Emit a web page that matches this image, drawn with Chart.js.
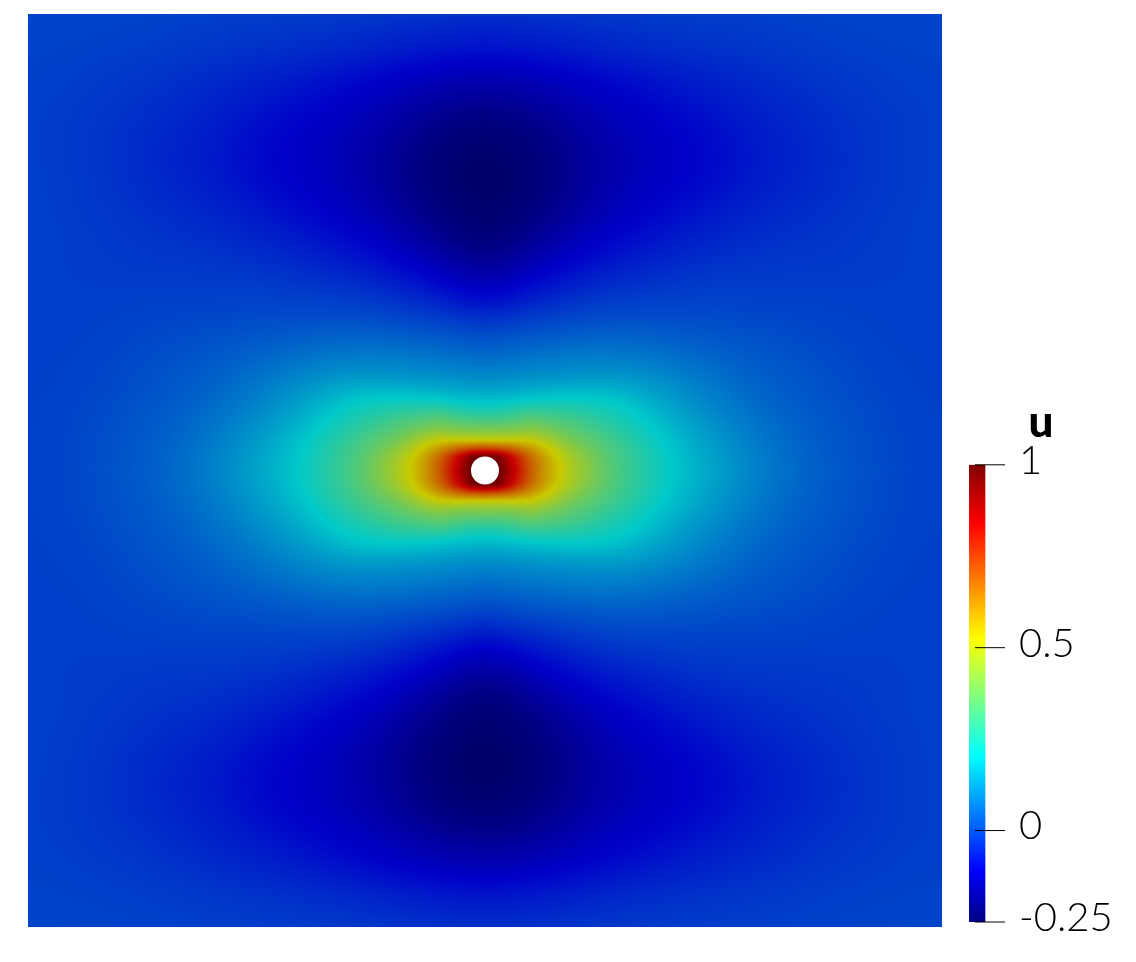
<!DOCTYPE html>
<html>
<head>
<meta charset="utf-8">
<title>u</title>
<script src="https://cdn.jsdelivr.net/npm/chart.js@4"></script>
<style>
    html, body { margin: 0; padding: 0; background: #fff; }
    #field { position: absolute; left: 0; top: 0; }
    #bar { position: absolute; left: 950px; top: 396px; }
</style>
</head>
<body>
<canvas id="field" width="1136" height="962"></canvas>
<canvas id="bar" width="163" height="564"></canvas>
<script>
// ---- Data ----
// The field is symmetric, so only one quadrant is kept (distance from the centre, domain -1..1)
const gridX = [0, .03, .06, .1, .14, .18, .22, .28, .34, .42, .5, .6, .7, .8, .9, 1];
const gridY = [0, .03, .05, .07, .09, .12, .16, .2, .26, .32, .4, .5, .6, .68, .78, .88, 1];

// one row per gridY, one value per gridX
const fieldRows = [
    [1.00, 1.00, .87, .70, .58, .50, .43, .335, .27, .195, .145, .09, .045, .02, 0, -.01],
    [1.00, .97, .83, .68, .57, .48, .42, .33, .27, .195, .145, .09, .045, .02, 0, -.01],
    [.72, .70, .67, .60, .52, .45, .39, .32, .26, .19, .14, .085, .045, .02, 0, -.01],
    [.49, .49, .50, .50, .46, .39, .35, .30, .25, .18, .13, .08, .04, .02, 0, -.01],
    [.40, .40, .40, .42, .39, .36, .33, .28, .23, .165, .12, .07, .035, .015, -.005, -.01],
    [.28, .28, .30, .325, .31, .30, .275, .24, .205, .15, .105, .06, .03, .01, -.005, -.01],
    [.175, .175, .18, .19, .20, .205, .205, .20, .17, .125, .09, .05, .025, .01, -.005, -.01],
    [.11, .11, .115, .12, .125, .125, .13, .13, .12, .10, .07, .04, .02, .005, -.01, -.01],
    [.045, .05, .055, .06, .065, .07, .075, .075, .07, .055, .04, .025, .01, 0, -.01, -.015],
    [-.015, -.015, -.005, 0, .005, .01, .015, .02, .02, .015, .01, .005, 0, -.005, -.015, -.015],
    [-.13, -.125, -.11, -.09, -.075, -.06, -.05, -.035, -.03, -.02, -.015, -.015, -.015, -.015, -.015, -.015],
    [-.235, -.225, -.21, -.19, -.165, -.145, -.125, -.10, -.085, -.065, -.05, -.035, -.03, -.025, -.015, -.01],
    [-.25, -.245, -.24, -.23, -.215, -.195, -.175, -.15, -.125, -.105, -.085, -.06, -.045, -.03, -.015, -.01],
    [-.25, -.25, -.25, -.235, -.215, -.195, -.175, -.155, -.135, -.12, -.105, -.075, -.055, -.04, -.025, -.01],
    [-.225, -.22, -.215, -.205, -.19, -.175, -.16, -.14, -.125, -.105, -.085, -.06, -.045, -.03, -.02, -.01],
    [-.135, -.13, -.125, -.12, -.11, -.10, -.095, -.085, -.07, -.06, -.05, -.04, -.03, -.02, -.015, -.01],
    [-.01, -.01, -.01, -.01, -.01, -.01, -.005, -.005, -.005, -.005, -.005, -.005, 0, 0, 0, 0]
];

// colour bar
const colorbarTitle = 'u';
const colorbarTicks = [-0.25, 0, 0.5, 1];
const colorbarLabels = ['-0.25', '0', '0.5', '1'];
const jetValues = [-0.25, -0.11, 0.206, 0.525, 0.84, 1];
const jetColors = [[0, 0, 130], [0, 0, 255], [0, 255, 255], [255, 255, 0], [255, 0, 0], [128, 0, 0]];

// surface is lit in the original, colours come out darker than on the bar
const shade = 0.79;

function jet(v) {
    let i = 0;
    while (i < jetValues.length - 2 && v > jetValues[i + 1]) i++;
    const t = Math.min(1, Math.max(0, (v - jetValues[i]) / (jetValues[i + 1] - jetValues[i])));
    return jetColors[i].map((c, k) => c + (jetColors[i + 1][k] - c) * t);
}

function findCell(arr, d) {
    let i = 0;
    while (i < arr.length - 2 && d > arr[i + 1]) i++;
    return [i, Math.min(1, (d - arr[i]) / (arr[i + 1] - arr[i]))];
}

// shades the quadrant table between its nodes, placed with the chart scales
function fieldValue(x, y) {
    const [i, tx] = findCell(gridX, Math.abs(x));
    const [j, ty] = findCell(gridY, Math.abs(y));
    const top = fieldRows[j][i] * (1 - tx) + fieldRows[j][i + 1] * tx;
    const bot = fieldRows[j + 1][i] * (1 - tx) + fieldRows[j + 1][i + 1] * tx;
    return top * (1 - ty) + bot * ty;
}

// softens the kinks of the table, less so close to the hole where the field is steep
function softValue(x, y) {
    const h = 0.08 * Math.max(Math.abs(x), Math.abs(y));
    let sum = 0;
    for (let a = -1; a <= 1; a++) {
        for (let b = -1; b <= 1; b++) sum += fieldValue(x + a * h, y + b * h);
    }
    return sum / 9;
}

const fieldPlugin = {
    id: 'fieldShading',
    beforeDatasetsDraw(chart) {
        const { ctx, chartArea, scales } = chart;
        const w = Math.round(chartArea.width), h = Math.round(chartArea.height);
        const img = ctx.createImageData(w, h);
        for (let py = 0; py < h; py++) {
            const y = scales.y.getValueForPixel(chartArea.top + py + 0.5);
            for (let px = 0; px < w; px++) {
                const x = scales.x.getValueForPixel(chartArea.left + px + 0.5);
                const c = jet(softValue(x, y));
                const o = (py * w + px) * 4;
                img.data[o] = c[0] * shade;
                img.data[o + 1] = c[1] * shade;
                img.data[o + 2] = c[2] * shade;
                img.data[o + 3] = 255;
            }
        }
        ctx.putImageData(img, Math.round(chartArea.left), Math.round(chartArea.top));
    }
};

// nodes of the full square, mirrored from the quadrant
const nodes = [];
gridY.forEach((gy, j) => gridX.forEach((gx, i) => {
    [-1, 1].forEach(sx => [-1, 1].forEach(sy => {
        nodes.push({ x: sx * gx, y: sy * gy, v: fieldRows[j][i] });
    }));
}));

new Chart(document.getElementById('field'), {
    type: 'scatter',
    data: {
        datasets: [
            { label: 'hole', data: [{ x: 0, y: 0 }], pointRadius: 14, pointHoverRadius: 14, backgroundColor: '#fff', borderWidth: 0 },
            { label: 'u', data: nodes, pointRadius: 0 }
        ]
    },
    options: {
        responsive: false,
        animation: false,
        layout: { padding: { left: 28, right: 194, top: 13, bottom: 35 } },
        plugins: { legend: { display: false }, tooltip: { enabled: false } },
        scales: {
            x: { display: false, min: -1, max: 1 },
            y: { display: false, min: -1, max: 1 }
        }
    },
    plugins: [fieldPlugin]
});

function barGradient(c) {
    const { ctx, scales, chartArea } = c.chart;
    if (!chartArea) return '#000';
    const y0 = scales.y.getPixelForValue(-0.25), y1 = scales.y.getPixelForValue(1);
    const g = ctx.createLinearGradient(0, y0, 0, y1);
    jetValues.forEach((v, i) => {
        g.addColorStop((v + 0.25) / 1.25, 'rgb(' + jetColors[i].join(',') + ')');
    });
    return g;
}

new Chart(document.getElementById('bar'), {
    type: 'bar',
    data: {
        datasets: [
            { label: 'range', data: [{ x: 8, y: [-0.25, 1] }], barThickness: 16, backgroundColor: barGradient, borderWidth: 0, order: 1 }
        ].concat(colorbarTicks.map(t => ({
            type: 'line',
            label: 'tick ' + t,
            data: [{ x: 6, y: t }, { x: 36, y: t }],
            borderColor: '#000',
            borderWidth: 1,
            pointRadius: 0,
            clip: false,
            order: 0
        })))
    },
    options: {
        responsive: false,
        animation: false,
        layout: { padding: { left: 19, right: 0, top: 0, bottom: 30 } },
        plugins: {
            legend: { display: false },
            tooltip: { enabled: false },
            title: {
                display: true,
                text: colorbarTitle,
                color: '#000',
                font: { family: 'Lato', size: 44, weight: 900 },
                padding: { top: 0, bottom: 16 }
            }
        },
        scales: {
            x: { type: 'linear', display: false, min: 0, max: 36, offset: false },
            y: {
                position: 'right',
                min: -0.25,
                max: 1,
                grid: { display: false, drawTicks: false },
                border: { display: false },
                afterBuildTicks: s => { s.ticks = colorbarTicks.map(v => ({ value: v })); },
                afterFit: s => { s.width = 108; },
                ticks: {
                    autoSkip: false,
                    padding: 14,
                    labelOffset: -4,
                    color: '#000',
                    font: { family: 'Lato', size: 40, weight: 300 },
                    callback: v => colorbarLabels[colorbarTicks.indexOf(v)]
                }
            }
        }
    }
});
</script>
</body>
</html>
